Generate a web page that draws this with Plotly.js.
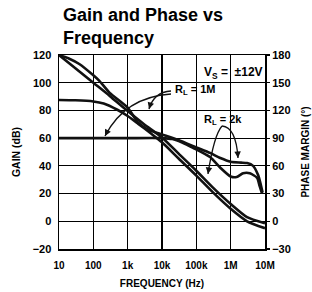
<!DOCTYPE html>
<html>
<head>
<meta charset="utf-8">
<script src="https://cdn.plot.ly/plotly-3.0.1.min.js"></script>
<style>html,body{margin:0;padding:0;background:#fff;}#chart{width:312px;height:292px;}</style>
</head>
<body>
<div id="chart"></div>
<script>
// Gain, R_L = 1M
const freqGain1M = [10, 30, 100, 300, 1e3, 3e3, 1e4, 3e4, 1e5, 3e5, 1e6, 3e6, 1e7];
const gain1M     = [120, 110.5, 100, 90.5, 79.5, 70, 60.5, 49, 36.5, 24.5, 12.5, 3, -1.5];
// Gain, R_L = 2k
const freqGain2k = [10, 30, 100, 200, 500, 1e3, 2e3, 5e3, 1e4, 3e4, 1e5, 3e5, 1e6, 3e6, 1e7];
const gain2k     = [87.5, 87.3, 86.5, 85, 80.5, 76, 70.5, 63, 57, 45.5, 33, 21, 9, 0, -5];
// Phase margin, R_L = 2k
const freqPhase2k = [10, 20, 40, 100, 150, 300, 1e3, 2e3, 4e3, 1e4, 3e4, 1e5, 2.5e5, 5e5, 1e6, 2e6, 3e6, 4.5e6, 6.3e6, 7.5e6, 8.5e6];
const phase2k     = [180, 176, 170, 158, 152, 139, 123, 107, 99, 94, 88, 80, 74, 68.5, 64.5, 63.5, 63, 60, 50, 40, 31];
// Phase margin, R_L = 1M
const freqPhase1M = [10, 100, 1e3, 1e4, 2e4, 4e4, 8e4, 2.5e5, 5e5, 1e6, 1.5e6, 2.3e6, 3.6e6, 5.9e6, 7e6, 8.2e6];
const phase1M     = [90, 90, 90, 90, 89, 85, 79.5, 69.5, 58, 48.5, 48, 52, 52, 47, 38, 30];

const freqTickVals = [10, 100, 1e3, 1e4, 1e5, 1e6, 1e7];
const freqTickText = ['10', '100', '1k', '10k', '100k', '1M', '10M'];
const gainTicks  = [-20, 0, 20, 40, 60, 80, 100, 120];
const phaseTicks = [-30, 0, 30, 60, 90, 120, 150, 180];

const ink = '#111';
const FONT = 'Liberation Sans, Arial, sans-serif';
const lineStyle = {color: ink, width: 2.6, shape: 'spline', smoothing: 0.6};
const tickFont = {family: FONT, size: 11, color: '#000', weight: 'bold'};

const traces = [
  {x: freqGain1M, y: gain1M, name: 'Gain, RL = 1M', mode: 'lines', line: lineStyle, yaxis: 'y'},
  {x: freqGain2k, y: gain2k, name: 'Gain, RL = 2k', mode: 'lines', line: lineStyle, yaxis: 'y'},
  {x: freqPhase2k, y: phase2k, name: 'Phase, RL = 2k', mode: 'lines', line: lineStyle, yaxis: 'y2'},
  {x: freqPhase1M, y: phase1M, name: 'Phase, RL = 1M', mode: 'lines', line: lineStyle, yaxis: 'y2'}
];

// plot-area pixel position -> paper coordinates (plot area: x 59..265, y 55..249)
const PX = x => (x - 59) / 206;
const PY = y => (249 - y) / 194;
const pt = (x, y) => PX(x).toFixed(4) + ' ' + PY(y).toFixed(4);
const curve = (a, c, b) => 'M ' + pt(a[0], a[1]) + ' Q ' + pt(c[0], c[1]) + ' ' + pt(b[0], b[1]);

const labelFont = {family: FONT, size: 12, color: '#000', weight: 'bold'};
const rlFont = {family: FONT, size: 11, color: '#000', weight: 'bold'};
function head(tip, ax, ay) {
  return {x: PX(tip[0]), y: PY(tip[1]), xref: 'paper', yref: 'paper', text: '', showarrow: true,
          arrowhead: 2, arrowsize: 1, arrowwidth: 1.3, arrowcolor: ink, ax: ax, ay: ay};
}
const arrowLine = {color: ink, width: 1.3};
const nb = '\u00A0';

const layout = {
  width: 312, height: 292,
  margin: {l: 59, r: 47, t: 55, b: 43},
  paper_bgcolor: '#fff', plot_bgcolor: '#fff',
  showlegend: false,
  title: {
    text: 'Gain and Phase vs<br>Frequency',
    x: 63 / 312, xref: 'container', xanchor: 'left',
    y: 1 - 21 / 292, yref: 'container', yanchor: 'top',
    font: {family: FONT, size: 18, color: '#000', weight: 'bold'}
  },
  xaxis: {
    type: 'log', range: [1, 7],
    tickvals: freqTickVals, ticktext: freqTickText,
    showgrid: true, gridcolor: '#000', gridwidth: 1.1,
    showline: true, linecolor: '#000', linewidth: 1.5, mirror: true,
    ticks: '', zeroline: false, ticklabelstandoff: 6,
    tickfont: Object.assign({}, tickFont, {size: 10}),
    title: {text: 'FREQUENCY (Hz)', standoff: 10,
            font: {family: FONT, size: 10, color: '#000', weight: 'bold'}}
  },
  yaxis: {
    range: [-20, 120], tickvals: gainTicks,
    showgrid: true, gridcolor: '#000', gridwidth: 1.1,
    showline: true, linecolor: '#000', linewidth: 1.5, mirror: true,
    ticks: '', zeroline: false, ticklabelstandoff: 4,
    tickfont: tickFont,
    title: {text: 'GAIN (dB)', standoff: 10,
            font: {family: FONT, size: 10.5, color: '#000', weight: 'bold'}}
  },
  yaxis2: {
    range: [-30, 180], tickvals: phaseTicks, overlaying: 'y', side: 'right',
    showgrid: false, zeroline: false, showline: false,
    ticks: 'outside', ticklen: 4, tickcolor: '#000', tickwidth: 1.2,
    tickfont: tickFont,
    title: {text: 'PHASE MARGIN (°)', standoff: 12,
            font: {family: FONT, size: 10, color: '#000', weight: 'bold'}}
  },
  shapes: [
    // arrows from "R_L = 1M"
    {type: 'path', xref: 'paper', yref: 'paper', path: curve([171, 91], [154, 92], [149, 109]), line: arrowLine},
    {type: 'path', xref: 'paper', yref: 'paper', path: curve([171, 94], [125, 97], [105, 136]), line: arrowLine},
    // arrows from "R_L = 2k"
    {type: 'path', xref: 'paper', yref: 'paper', path: curve([222, 126], [214, 135], [208, 174]), line: arrowLine},
    {type: 'path', xref: 'paper', yref: 'paper', path: curve([222, 126], [236, 127], [238, 158]), line: arrowLine}
  ],
  annotations: [
    {x: 1.0, y: PY(73), xref: 'paper', yref: 'paper', xanchor: 'right', yanchor: 'middle',
     text: 'V<sub>S</sub>' + nb + '=' + nb + nb + '±12V', showarrow: false, font: labelFont},
    {x: PX(173), y: PY(90), xref: 'paper', yref: 'paper', xanchor: 'left', yanchor: 'middle',
     text: 'R<sub>L</sub>' + nb + '=' + nb + '1M', showarrow: false, font: rlFont},
    {x: PX(202), y: PY(120), xref: 'paper', yref: 'paper', xanchor: 'left', yanchor: 'middle',
     text: 'R<sub>L</sub>' + nb + '=' + nb + '2k', showarrow: false, font: rlFont},
    head([149, 109], 2.3, -7.7),
    head([105, 136], 3.6, -7.1),
    head([208, 174], 1.2, -7.9),
    head([238, 158], -0.5, -8)
  ]
};

Plotly.newPlot('chart', traces, layout, {staticPlot: true, displayModeBar: false});
</script>
</body>
</html>
